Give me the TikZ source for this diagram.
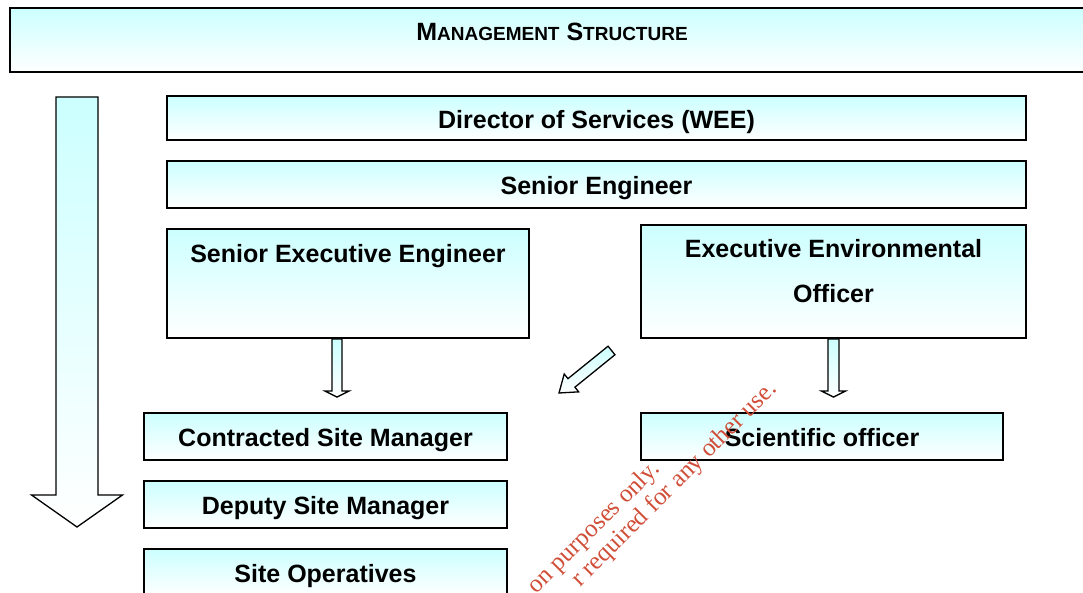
\documentclass[tikz,border=0pt]{standalone}
\usepackage{fontspec}
\setmainfont{Liberation Sans}
\newfontfamily\stampfont{Liberation Serif}
\usetikzlibrary{calc}
\definecolor{paleblue}{RGB}{204,255,255}
\definecolor{stampred}{RGB}{208,78,56}

\begin{document}
\begin{tikzpicture}[x=1pt,y=1pt]
\tikzstyle{box}=[draw=black,line width=1.8pt,rectangle,top color=paleblue,bottom color=white,inner sep=0pt,font=\fontsize{25}{29}\selectfont\bfseries,text height=20pt,text depth=0pt]
\tikzstyle{boxlabel}=[font=\fontsize{25}{29}\selectfont\bfseries,inner sep=0pt,anchor=north]
\tikzstyle{arrowfill}=[draw=black,line width=1.3pt,top color=paleblue,bottom color=white]
\tikzstyle{stamp}=[stampred,font=\fontsize{25}{26}\selectfont\stampfont,inner sep=0pt,rotate=45,anchor=base east]
\def \smallcap#1{{\fontsize{19}{20}\selectfont #1}}
% block arrow: tail, tip, half shaft width, half head width, head length
\def \blockarrow#1#2#3#4#5{%
  \coordinate (neck) at ($(#2)!#5!(#1)$);
  \shadedraw[arrowfill] ($(#1)!#3!90:(#2)$) -- ($(neck)!#3!90:(#2)$) -- ($(neck)!#4!90:(#2)$) -- (#2)
    -- ($(neck)!#4!-90:(#2)$) -- ($(neck)!#3!-90:(#2)$) -- ($(#1)!#3!-90:(#2)$) -- cycle;}
\useasboundingbox (0,0) rectangle (1083,593);
\clip (0,0) rectangle (1083,593);

\node[box,minimum width=1084pt,minimum height=64pt,text height=10pt,text depth=8pt] (title) at (552,553) {M\smallcap{ANAGEMENT} S\smallcap{TRUCTURE}};

\node[box,minimum width=859pt,minimum height=44pt,text height=21pt] (director) at (596.5,475) {Director of Services (WEE)};
\node[box,minimum width=859pt,minimum height=47pt] (senior) at (596.5,408.5) {Senior Engineer};
\node[box,minimum width=362pt,minimum height=109pt,label={[boxlabel,yshift=-16.5pt]north:{Senior Executive Engineer}}] (see) at (348,309.5) {};
\node[box,minimum width=385pt,minimum height=113pt,label={[boxlabel,align=center,yshift=-15pt]north:{Executive Environmental\\[16pt]Officer}}] (eeo) at (833.5,311.5) {};

\node[box,minimum width=363pt,minimum height=47pt] (csm) at (325.5,156.5) {Contracted Site Manager};
\node[box,minimum width=363pt,minimum height=47pt] (dsm) at (325.5,88.5) {Deputy Site Manager};
\node[box,minimum width=363pt,minimum height=47pt] (ops) at (325.5,20.5) {Site Operatives};
\node[box,minimum width=362pt,minimum height=47pt] (sci) at (822,156.5) {Scientific officer};

% arrows
\coordinate (railtop) at (77,496);
\coordinate (railtip) at (77,66);
\blockarrow{railtop}{railtip}{21pt}{45.5pt}{32pt}
\coordinate (seetail) at ($(see.south)+(-11,0)$);
\coordinate (seetip) at ($(seetail |- csm.north)+(0,15)$);
\blockarrow{seetail}{seetip}{5pt}{12pt}{6pt}
\coordinate (eeotail) at (eeo.south);
\coordinate (eeotip) at ($(eeotail |- sci.north)+(0,15)$);
\blockarrow{eeotail}{eeotip}{5.5pt}{12pt}{6pt}
\coordinate (crosstail) at (611.5,242.5);
\coordinate (crosstip) at (559,200);
\blockarrow{crosstail}{crosstip}{5.5pt}{11.5pt}{16pt}

\node[stamp] (stamp1) at (661,123) {on purposes only.};
\node[stamp] (stamp2) at (778,203) {r required for any other use.};
\end{tikzpicture}
\end{document}
